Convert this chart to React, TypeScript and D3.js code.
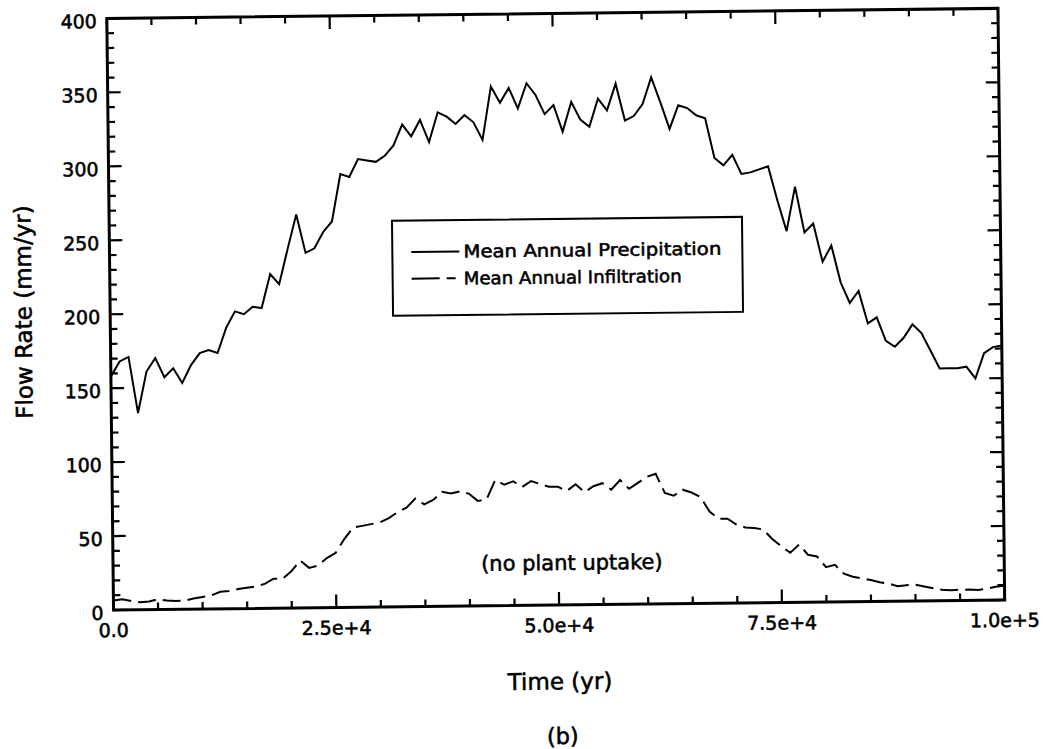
import React from 'react';
import * as d3 from 'd3';

// ---- Data ----
const timeStepYears = 1000;
const precipitation = [
  158, 168, 171, 133, 161, 170, 157, 163, 153, 165,
  173, 175, 173, 190, 201, 199, 204, 203, 226, 219,
  243, 266, 240, 243, 254, 261, 293, 291, 303, 302,
  301, 305, 312, 326, 318, 329, 314, 334, 331, 326,
  332, 327, 315, 351, 340, 350, 336, 353, 345, 332,
  338, 320, 340, 328, 323, 342, 334, 352, 327, 330,
  338, 356, 339, 321, 337, 335, 330, 328, 301, 296,
  303, 290, 291, 293, 295, 272, 251, 281, 250, 256,
  230, 241, 216, 202, 210, 188, 192, 176, 172, 178,
  187, 181, 169, 157, 157, 157, 158, 150, 167, 171,
  172,
];
const infiltration = [
  6.5, 7.2, 6, 5, 5.5, 7, 6, 5.6, 5.8, 7.2,
  8.2, 9.2, 11.5, 12, 13.2, 14, 14.8, 16.5, 20, 19.8,
  24.9, 32, 27, 28.5, 33.5, 37, 46.4, 54, 55, 56.1,
  57.2, 60, 64, 67, 73, 69, 72, 77.4, 76.2, 77.5,
  76, 71, 72, 85, 81.7, 84, 80, 84, 82, 80,
  80, 77, 81.5, 76, 80, 82, 77.6, 84, 78, 82,
  86, 88, 75, 73, 77, 75, 72, 62, 57, 57,
  53, 51, 50.5, 49.5, 43, 38, 33.5, 39, 32, 30.8,
  23.5, 25, 19, 16.8, 15.6, 14.5, 12.9, 12, 10.1, 10.7,
  11, 9.7, 8.5, 7.3, 7, 7.2, 7.3, 6.9, 7.8, 9,
  9.5,
];
const xTickValues = [0, 25000, 50000, 75000, 100000];
const xTickLabels = ['0.0', '2.5e+4', '5.0e+4', '7.5e+4', '1.0e+5'];
const yTickValues = [0, 50, 100, 150, 200, 250, 300, 350, 400];
const seriesNames = ['Mean Annual Precipitation', 'Mean Annual Infiltration'];
const annotation = '(no plant uptake)';
const xTitle = 'Time (yr)';
const yTitle = 'Flow Rate (mm/yr)';
const panelLabel = '(b)';

const W = 1047;
const H = 749;
const L = 110.15;
const R = 1001.35;
const T = 13.4;
const B = 605;
const FONT = '"DejaVu Sans", Arial, sans-serif';
const TEXT_STROKE = 0.55;

export default function App() {
  const x = d3.scaleLinear().domain([0, 100000]).range([L, R]);
  const y = d3.scaleLinear().domain([0, 400]).range([B, T]);
  const times = precipitation.map((_, i) => i * timeStepYears);

  const line = d3
    .line<number>()
    .x((_, i) => x(times[i]))
    .y((d) => y(d));

  const xMinor = d3.range(0, 100001, 5000);
  const yMinor = d3.range(0, 401, 10);
  const isXMajor = (v: number) => v % 25000 === 0;
  const isYMajor = (v: number) => v % 50 === 0;

  const cx = (L + R) / 2;
  const cy = (T + B) / 2;

  const textProps = { fill: '#000', stroke: '#000', strokeWidth: TEXT_STROKE };

  return (
    <svg
      width={W}
      height={H}
      viewBox={`0 0 ${W} ${H}`}
      style={{ position: 'absolute', left: 0, top: 0, background: '#fff' }}
      fontFamily={FONT}
    >
      <rect x={0} y={0} width={W} height={H} fill="#fff" />
      <g transform={`rotate(-0.65 ${cx} ${cy})`}>
        {/* ticks */}
        {xMinor.map((v) => {
          const len = isXMajor(v) ? 13 : 7;
          return (
            <g key={'xt' + v} stroke="#000" strokeWidth={2.2}>
              <line x1={x(v)} x2={x(v)} y1={B} y2={B - len} />
              <line x1={x(v)} x2={x(v)} y1={T} y2={T + len} />
            </g>
          );
        })}
        {yMinor.map((v) => {
          const len = isYMajor(v) ? 13 : 7;
          return (
            <g key={'yt' + v} stroke="#000" strokeWidth={2.2}>
              <line x1={L} x2={L + len} y1={y(v)} y2={y(v)} />
              <line x1={R} x2={R - len} y1={y(v)} y2={y(v)} />
            </g>
          );
        })}
        {/* frame */}
        <rect x={L} y={T} width={R - L} height={B - T} fill="none" stroke="#000" strokeWidth={3} />

        {/* series */}
        <path d={line(precipitation) || ''} fill="none" stroke="#000" strokeWidth={2} strokeLinejoin="miter" />
        <path
          d={line(infiltration) || ''}
          fill="none"
          stroke="#000"
          strokeWidth={2}
          strokeDasharray="18 7"
        />

        {/* tick labels */}
        {yTickValues.map((v) => (
          <text key={'yl' + v} x={L - 10} y={y(v) + 9.6} textAnchor="end" fontSize={19} {...textProps}>
            {v}
          </text>
        ))}
        {xTickValues.map((v, i) => (
          <text key={'xl' + v} x={x(v)} y={B + 27} textAnchor="middle" fontSize={19} {...textProps}>
            {xTickLabels[i]}
          </text>
        ))}

        {/* axis titles */}
        <text x={cx} y={689.5} textAnchor="middle" fontSize={23} {...textProps}>
          {xTitle}
        </text>
        <text transform={`translate(31.5 306) rotate(-90)`} textAnchor="middle" fontSize={23} {...textProps}>
          {yTitle}
        </text>
        <text x={558} y={744} textAnchor="middle" fontSize={22.5} {...textProps}>
          {panelLabel}
        </text>

        {/* annotation */}
        <text x={569} y={570} textAnchor="middle" fontSize={21} {...textProps}>
          {annotation}
        </text>

        {/* legend */}
        <rect x={393} y={219} width={350} height={95} fill="#fff" stroke="#000" strokeWidth={2} />
        <line x1={412} x2={460} y1={250.4} y2={250.4} stroke="#000" strokeWidth={2} />
        <line x1={412} x2={456} y1={277} y2={277} stroke="#000" strokeWidth={2} strokeDasharray="28 7" />
        <text x={464} y={256.5} fontSize={17.5} textLength={258} lengthAdjust="spacingAndGlyphs" {...textProps}>
          {seriesNames[0]}
        </text>
        <text x={464} y={283.5} fontSize={17.5} textLength={218} lengthAdjust="spacingAndGlyphs" {...textProps}>
          {seriesNames[1]}
        </text>
      </g>
    </svg>
  );
}
